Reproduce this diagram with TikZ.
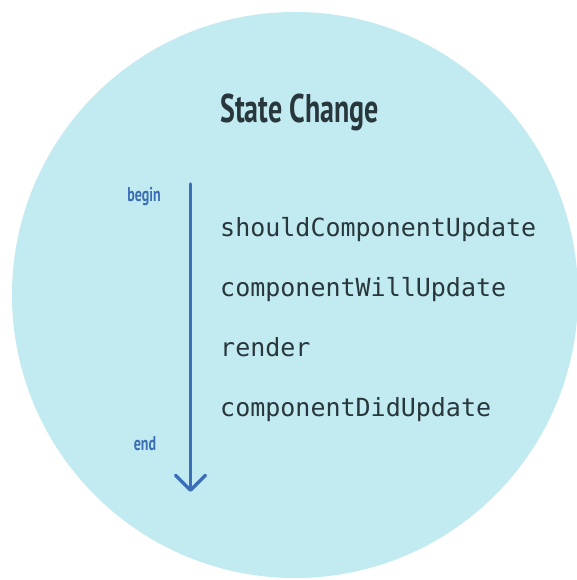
\documentclass[tikz,border=0pt]{standalone}
\usepackage{fontspec}
\setmainfont{DejaVu Sans}
\newfontfamily\codefont{DejaVu Sans Mono}
\newfontfamily\narrowfont[FakeStretch=0.7]{PT Sans Bold}

\usetikzlibrary{positioning,arrows.meta}

\definecolor{bubble}{RGB}{194,235,241}
\definecolor{inkgray}{RGB}{40,55,60}
\definecolor{flowblue}{RGB}{59,110,180}

\begin{document}
\begin{tikzpicture}[x=1pt, y=1pt, node distance=60pt]
        % Style Definitions
        \tikzstyle{heading} = [inner sep=0, anchor=base west, text=inkgray, font=\narrowfont\fontsize{40}{40}\selectfont]
        \tikzstyle{method} = [inner sep=0, anchor=base west, text=inkgray, font=\codefont\fontsize{25}{25}\selectfont]
        \tikzstyle{marker} = [inner sep=0, text=flowblue, font=\narrowfont\fontsize{20}{20}\selectfont]
        \tikzstyle{flow} = [-{Straight Barb[length=15pt, width=30pt, round]}, line width=3.5pt, line cap=round, draw=flowblue]

        % Canvas
        \useasboundingbox (0,0) rectangle (577,580);
        \fill[white] (0,0) rectangle (577,580);
        \fill[bubble] (295,285) circle (283);

        % Nodes
        \node (title) [heading] at (220,457) {State Change};
        \node (should) [method] at (220,343) {shouldComponentUpdate};
        \node (will) [method, below=of should.base west, anchor=base west] {componentWillUpdate};
        \node (render) [method, below=of will.base west, anchor=base west] {render};
        \node (did) [method, below=of render.base west, anchor=base west] {componentDidUpdate};
        \coordinate (start) at (190.5,396);
        \coordinate (stop) at (190.5,88);
        \node (begin) [marker] at (144,383) {begin};
        \node (end) [marker] at (145,136) {end};

        % Arrows
        \draw[flow] (start) -- (stop);

    \end{tikzpicture}
\end{document}
